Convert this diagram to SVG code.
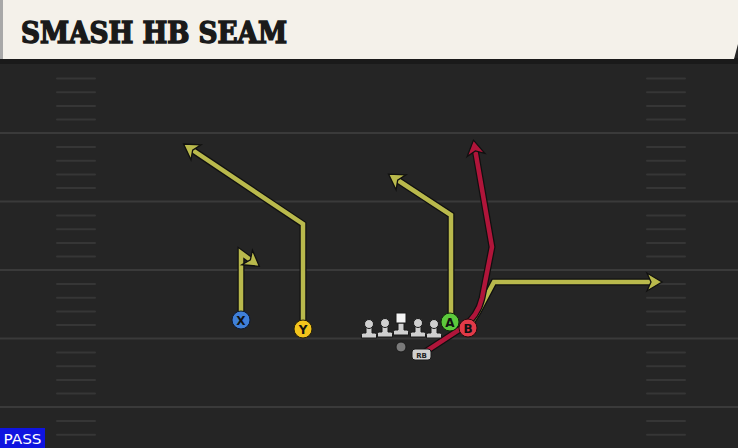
<svg xmlns="http://www.w3.org/2000/svg" width="738" height="448" viewBox="0 0 738 448">
<style>
.yard{stroke:#3a3a3a;stroke-width:2}
.hash{stroke:#363636;stroke-width:2;stroke-linecap:round}
.out{fill:none;stroke:#101010;stroke-width:7;stroke-linejoin:miter}
.ry{fill:none;stroke:#b9b94c;stroke-width:4.5;stroke-linejoin:miter}
.rr{fill:none;stroke:#b0153a;stroke-width:4.5;stroke-linejoin:miter}
.lbl{font-family:"DejaVu Sans",sans-serif;font-weight:bold;font-size:12px;fill:#111;text-anchor:middle}
.ol{fill:#d0d0d0;stroke:#1a1a1a;stroke-width:1}
</style>
<defs>
<marker id="ay" viewBox="-12 -12 24 24" markerWidth="24" markerHeight="24" markerUnits="userSpaceOnUse" refX="0" refY="0" orient="auto">
<path d="M9,0 L-6,-9 L-2,0 L-6,9 Z" fill="#b9b94c" stroke="#101010" stroke-width="1.3" stroke-linejoin="miter"/>
</marker>
<marker id="ar" viewBox="-12 -12 24 24" markerWidth="24" markerHeight="24" markerUnits="userSpaceOnUse" refX="0" refY="0" orient="auto">
<path d="M9,0 L-6,-9 L-2,0 L-6,9 Z" fill="#b0153a" stroke="#101010" stroke-width="1.3" stroke-linejoin="miter"/>
</marker>
<g id="lineman">
<path d="M-3,-13 h6 v8 h3 a1.5,1.5 0 0 1 1.5,1.5 v3.5 h-15 v-3.5 a1.5,1.5 0 0 1 1.5,-1.5 h3 Z" class="ol"/>
<circle cx="0" cy="-14" r="4.5" class="ol"/>
</g>
</defs>

<!-- field background -->
<rect x="0" y="0" width="738" height="448" fill="#252525"/>
<rect x="0" y="58" width="738" height="6" fill="#1a1a1a"/>

<!-- yard lines -->
<g id="field">
<line class="yard" x1="0" y1="133" x2="738" y2="133"/>
<line class="yard" x1="0" y1="201.5" x2="738" y2="201.5"/>
<line class="yard" x1="0" y1="270" x2="738" y2="270"/>
<line class="yard" x1="0" y1="338.5" x2="738" y2="338.5"/>
<line class="yard" x1="0" y1="407" x2="738" y2="407"/>
<g id="hashes">
<line class="hash" x1="57" y1="78.5" x2="95" y2="78.5"/><line class="hash" x1="647" y1="78.5" x2="685" y2="78.5"/>
<line class="hash" x1="57" y1="92.2" x2="95" y2="92.2"/><line class="hash" x1="647" y1="92.2" x2="685" y2="92.2"/>
<line class="hash" x1="57" y1="105.9" x2="95" y2="105.9"/><line class="hash" x1="647" y1="105.9" x2="685" y2="105.9"/>
<line class="hash" x1="57" y1="119.6" x2="95" y2="119.6"/><line class="hash" x1="647" y1="119.6" x2="685" y2="119.6"/>
<line class="hash" x1="57" y1="147" x2="95" y2="147"/><line class="hash" x1="647" y1="147" x2="685" y2="147"/>
<line class="hash" x1="57" y1="160.7" x2="95" y2="160.7"/><line class="hash" x1="647" y1="160.7" x2="685" y2="160.7"/>
<line class="hash" x1="57" y1="174.4" x2="95" y2="174.4"/><line class="hash" x1="647" y1="174.4" x2="685" y2="174.4"/>
<line class="hash" x1="57" y1="188.1" x2="95" y2="188.1"/><line class="hash" x1="647" y1="188.1" x2="685" y2="188.1"/>
<line class="hash" x1="57" y1="215.5" x2="95" y2="215.5"/><line class="hash" x1="647" y1="215.5" x2="685" y2="215.5"/>
<line class="hash" x1="57" y1="229.2" x2="95" y2="229.2"/><line class="hash" x1="647" y1="229.2" x2="685" y2="229.2"/>
<line class="hash" x1="57" y1="242.9" x2="95" y2="242.9"/><line class="hash" x1="647" y1="242.9" x2="685" y2="242.9"/>
<line class="hash" x1="57" y1="256.6" x2="95" y2="256.6"/><line class="hash" x1="647" y1="256.6" x2="685" y2="256.6"/>
<line class="hash" x1="57" y1="284" x2="95" y2="284"/><line class="hash" x1="647" y1="284" x2="685" y2="284"/>
<line class="hash" x1="57" y1="297.7" x2="95" y2="297.7"/><line class="hash" x1="647" y1="297.7" x2="685" y2="297.7"/>
<line class="hash" x1="57" y1="311.4" x2="95" y2="311.4"/><line class="hash" x1="647" y1="311.4" x2="685" y2="311.4"/>
<line class="hash" x1="57" y1="325.1" x2="95" y2="325.1"/><line class="hash" x1="647" y1="325.1" x2="685" y2="325.1"/>
<line class="hash" x1="57" y1="352.5" x2="95" y2="352.5"/><line class="hash" x1="647" y1="352.5" x2="685" y2="352.5"/>
<line class="hash" x1="57" y1="366.2" x2="95" y2="366.2"/><line class="hash" x1="647" y1="366.2" x2="685" y2="366.2"/>
<line class="hash" x1="57" y1="379.9" x2="95" y2="379.9"/><line class="hash" x1="647" y1="379.9" x2="685" y2="379.9"/>
<line class="hash" x1="57" y1="393.6" x2="95" y2="393.6"/><line class="hash" x1="647" y1="393.6" x2="685" y2="393.6"/>
<line class="hash" x1="57" y1="421" x2="95" y2="421"/><line class="hash" x1="647" y1="421" x2="685" y2="421"/>
<line class="hash" x1="57" y1="434.7" x2="95" y2="434.7"/><line class="hash" x1="647" y1="434.7" x2="685" y2="434.7"/>
</g>
</g>

<!-- header -->
<g id="header">
<path d="M0,0 H738 V44 L734,59 H0 Z" fill="#f4f1ea"/>
<rect x="0" y="0" width="3" height="59" fill="#a8a8a8"/>
<text x="21" y="43" font-family="'DejaVu Serif Condensed','DejaVu Serif',serif" font-weight="900" font-size="29" fill="#1a1a1a" stroke="#1a1a1a" stroke-width="1.4" stroke-linejoin="miter" textLength="266" lengthAdjust="spacingAndGlyphs">SMASH HB SEAM</text>
</g>

<!-- connectors / routes -->
<g id="connectors">
<path class="out" d="M241,320 V253 L252,261"/>
<path class="ry" d="M241,320 V253 L252,261" marker-end="url(#ay)"/>
<path class="out" d="M303,329 V224 L191,149"/>
<path class="ry" d="M303,329 V224 L191,149" marker-end="url(#ay)"/>
<path class="out" d="M451,322 V215 L396,179"/>
<path class="ry" d="M451,322 V215 L396,179" marker-end="url(#ay)"/>
<path class="out" d="M468,328 L478,312 L494,282 H653"/>
<path class="ry" d="M468,328 L478,312 L494,282 H653" marker-end="url(#ay)"/>
<path class="out" d="M425,352 L462,328 Q478,316 482,298 L492,247 L475,149"/>
<path class="rr" d="M425,352 L462,328 Q478,316 482,298 L492,247 L475,149" marker-end="url(#ar)"/>
</g>

<!-- offensive line -->
<g id="ol">
<use href="#lineman" x="369" y="338"/>
<use href="#lineman" x="385" y="337"/>
<g transform="translate(401,335)">
<path d="M-3,-12 h6 v7 h3 a1.5,1.5 0 0 1 1.5,1.5 v3.5 h-15 v-3.5 a1.5,1.5 0 0 1 1.5,-1.5 h3 Z" class="ol"/>
<rect x="-5" y="-22" width="10" height="10" fill="#f4f4f4" stroke="#1a1a1a" stroke-width="1"/>
</g>
<use href="#lineman" x="418" y="337"/>
<use href="#lineman" x="434" y="338"/>
</g>

<g id="qb"><circle cx="401" cy="347" r="5" fill="#7a7a7a" stroke="#1a1a1a" stroke-width="1"/></g>

<g id="rb">
<rect x="412" y="349" width="19" height="11" rx="3" fill="#cfcfcf" stroke="#1a1a1a" stroke-width="1"/>
<text x="421.5" y="357.5" font-family="'DejaVu Sans',sans-serif" font-weight="bold" font-size="7" fill="#222" text-anchor="middle">RB</text>
</g>

<g id="X"><circle cx="241" cy="320" r="9" fill="#3f7fd8" stroke="#0e1a33" stroke-width="1"/><text class="lbl" x="241" y="324.5">X</text></g>
<g id="Y"><circle cx="303" cy="329" r="9" fill="#f2c41c" stroke="#2a2206" stroke-width="1"/><text class="lbl" x="303" y="333.5">Y</text></g>
<g id="A"><circle cx="450" cy="322" r="9" fill="#5cc83c" stroke="#0f2a08" stroke-width="1"/><text class="lbl" x="450" y="326.5">A</text></g>
<g id="B"><circle cx="468" cy="328" r="9" fill="#e23a48" stroke="#2a0a0c" stroke-width="1"/><text class="lbl" x="468" y="332.5">B</text></g>

<g id="pass">
<rect x="0" y="428" width="45" height="20" fill="#0f14e0"/>
<text x="22.5" y="444" font-family="'DejaVu Sans',sans-serif" font-size="14" fill="#ffffff" text-anchor="middle" textLength="38" lengthAdjust="spacingAndGlyphs">PASS</text>
</g>
</svg>
